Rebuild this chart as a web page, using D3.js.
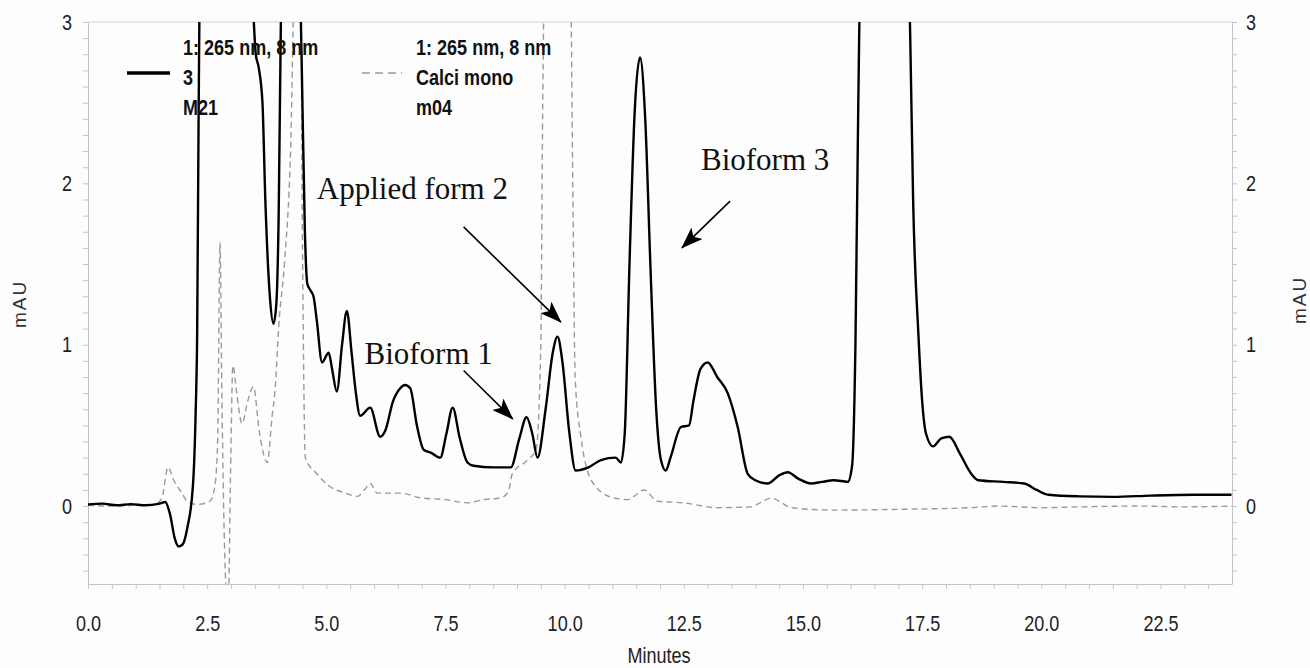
<!DOCTYPE html>
<html>
<head>
<meta charset="utf-8">
<script src="https://cdn.jsdelivr.net/npm/d3@7"></script>
<style>
  body { margin: 0; background: #fdfdfd; }
  svg { display: block; }
  .tick text { font-family: 'Liberation Sans', Arial, sans-serif; font-size: 22px; fill: #222; }
  .tick line { stroke: #c4c4c4; }
  .domain { stroke: #c4c4c4; }
</style>
</head>
<body>
<svg id="chart"></svg>
<script>
// trace 1: 265 nm, 8 nm — sample 3 / M21  [minutes, mAU]
const sampleM21 = [
  [0.0, 0.01], [0.3, 0.015], [0.6, 0.005], [0.9, 0.012], [1.2, 0.005], [1.5, 0.015],
  [1.62, 0.025], [1.72, -0.05], [1.82, -0.2], [1.9, -0.25], [1.98, -0.24], [2.08, -0.14],
  [2.2, 0.12], [2.26, 0.6], [2.29, 1.07], [2.32, 2.4], [2.36, 3.5], [3.4, 3.5],
  [3.47, 3.05], [3.52, 2.8], [3.58, 2.72], [3.66, 2.5], [3.72, 1.9], [3.82, 1.28],
  [3.89, 1.13], [3.95, 1.25], [4.0, 1.8], [4.05, 3.1], [4.08, 3.5], [4.42, 3.5],
  [4.48, 2.8], [4.55, 1.7], [4.6, 1.38], [4.66, 1.34], [4.73, 1.3], [4.8, 1.15],
  [4.91, 0.89], [5.05, 0.95], [5.12, 0.85], [5.22, 0.71], [5.33, 1.0], [5.43, 1.21],
  [5.53, 0.95], [5.62, 0.7], [5.71, 0.56], [5.92, 0.61], [6.13, 0.43], [6.24, 0.47],
  [6.4, 0.65], [6.55, 0.73], [6.65, 0.75], [6.76, 0.73], [6.9, 0.5], [7.04, 0.35],
  [7.2, 0.33], [7.39, 0.3], [7.52, 0.45], [7.65, 0.61], [7.8, 0.42], [7.96, 0.27],
  [8.09, 0.25], [8.5, 0.24], [8.87, 0.24], [9.05, 0.42], [9.2, 0.55], [9.32, 0.45],
  [9.43, 0.3], [9.6, 0.6], [9.75, 0.95], [9.85, 1.05], [9.95, 0.9], [10.1, 0.45],
  [10.23, 0.22], [10.5, 0.24], [10.76, 0.285], [11.07, 0.3], [11.18, 0.27], [11.26, 0.45],
  [11.36, 1.5], [11.47, 2.45], [11.58, 2.78], [11.69, 2.4], [11.8, 1.48], [11.92, 0.6],
  [12.02, 0.285], [12.12, 0.22], [12.22, 0.3], [12.44, 0.49], [12.61, 0.5], [12.7, 0.65],
  [12.85, 0.85], [13.0, 0.89], [13.2, 0.8], [13.42, 0.7], [13.63, 0.49], [13.84, 0.2],
  [14.0, 0.16], [14.26, 0.14], [14.5, 0.19], [14.68, 0.21], [14.9, 0.17], [15.17, 0.14],
  [15.4, 0.15], [15.65, 0.16], [15.94, 0.15], [16.03, 0.25], [16.1, 1.0], [16.16, 2.5],
  [16.22, 3.5], [17.2, 3.5], [17.25, 2.9], [17.31, 1.9], [17.42, 1.07], [17.5, 0.65],
  [17.58, 0.45], [17.73, 0.37], [17.9, 0.42], [18.07, 0.43], [18.3, 0.32], [18.53, 0.2],
  [18.68, 0.16], [19.2, 0.15], [19.64, 0.14], [19.9, 0.1], [20.15, 0.07], [20.8, 0.06],
  [21.5, 0.057], [22.3, 0.065], [23.2, 0.07], [23.99, 0.07]
];

// trace 1: 265 nm, 8 nm — Calci mono / m04  [minutes, mAU]
const calciM04 = [
  [0.0, 0.005], [0.5, 0.0], [1.0, 0.005], [1.4, 0.01], [1.55, 0.05], [1.68, 0.24],
  [1.8, 0.16], [1.97, 0.08], [2.08, 0.03], [2.29, 0.01], [2.56, 0.03], [2.66, 0.12],
  [2.72, 0.4], [2.77, 1.63], [2.81, 0.66], [2.86, -0.2], [2.9, -0.5], [2.95, -0.5],
  [2.99, 0.2], [3.04, 0.87], [3.12, 0.7], [3.23, 0.51], [3.35, 0.65], [3.47, 0.74],
  [3.6, 0.45], [3.76, 0.27], [3.86, 0.55], [3.93, 0.74], [4.0, 1.11], [4.12, 1.5],
  [4.25, 2.2], [4.34, 3.3], [4.46, 3.3], [4.5, 1.6], [4.56, 0.3], [4.8, 0.2],
  [5.08, 0.12], [5.4, 0.08], [5.65, 0.06], [5.8, 0.1], [5.92, 0.14], [6.07, 0.08],
  [6.55, 0.08], [7.0, 0.05], [7.5, 0.04], [7.96, 0.02], [8.3, 0.04], [8.65, 0.05],
  [8.82, 0.09], [8.9, 0.2], [9.2, 0.28], [9.4, 0.35], [9.5, 1.0], [9.54, 2.5],
  [9.58, 3.3], [10.12, 3.3], [10.17, 2.0], [10.22, 0.8], [10.34, 0.43], [10.6, 0.14],
  [11.03, 0.05], [11.32, 0.04], [11.5, 0.07], [11.66, 0.1], [11.95, 0.03], [12.5, 0.02],
  [13.2, -0.01], [13.9, -0.005], [14.1, 0.02], [14.33, 0.05], [14.55, 0.02], [14.75, -0.01],
  [15.65, -0.025], [17.06, -0.02], [18.5, -0.01], [19.1, 0.0], [20.0, -0.01], [20.8, -0.005],
  [22.0, 0.0], [23.0, -0.005], [24.0, 0.0]
];

const xLabels = [0, 2.5, 5, 7.5, 10, 12.5, 15, 17.5, 20, 22.5];
const yLabels = [0, 1, 2, 3];

const legendSample = ["1: 265 nm, 8 nm", "3", "M21"];
const legendCalci = ["1: 265 nm, 8 nm", "Calci mono", "m04"];

// annotation text, label anchor [min, mAU], arrow from/to [min, mAU]
const notes = [
  { text: "Applied form 2", at: [4.8, 1.9], from: [7.88, 1.73], to: [9.92, 1.14] },
  { text: "Bioform 1", at: [5.8, 0.88], from: [7.88, 0.84], to: [8.91, 0.54] },
  { text: "Bioform 3", at: [12.86, 2.08], from: [13.47, 1.89], to: [12.46, 1.6] }
];

const width = 1310, height = 668;
const plotL = 88, plotR = 1232, plotT = 22, plotB = 584;
const squeeze = 0.82; // the scan's sans text is a narrow face

const svg = d3.select("#chart").attr("width", width).attr("height", height);

const x = d3.scaleLinear().domain([0, 24]).range([plotL, plotR]);
const y = d3.scaleLinear().domain([-0.483, 3]).range([plotB, plotT]);

// squash text horizontally, keeping its anchor point where it was
function narrow(sel) {
  sel.each(function () {
    const t = d3.select(this);
    const x0 = +(t.attr("x") || 0);
    t.attr("x", x0 / squeeze).attr("transform", `scale(${squeeze},1)`);
  });
}

const defs = svg.append("defs");
defs.append("clipPath").attr("id", "plot")
  .append("rect").attr("x", plotL).attr("y", plotT).attr("width", plotR - plotL).attr("height", plotB - plotT);

const arrow = defs.append("marker")
  .attr("id", "head").attr("markerUnits", "userSpaceOnUse")
  .attr("viewBox", "0 0 22 16").attr("markerWidth", 22).attr("markerHeight", 16)
  .attr("refX", 21).attr("refY", 8).attr("orient", "auto");
arrow.append("path").attr("d", "M0,0 L22,8 L0,16 L5,8 Z").attr("fill", "#000");

// frame
svg.append("line").attr("x1", plotL).attr("x2", plotR).attr("y1", plotT).attr("y2", plotT)
  .attr("stroke", "#d4d4d4");

const minorY = d3.range(-4, 31).map(i => i / 10);
const minorX = d3.range(0, 48).map(i => i / 2);

svg.append("g").attr("transform", `translate(${plotL},0)`)
  .call(d3.axisLeft(y).tickValues(minorY).tickSize(5).tickSizeOuter(0).tickPadding(11)
    .tickFormat(d => yLabels.includes(d) ? d : ""))
  .call(g => narrow(g.selectAll("text")));

svg.append("g").attr("transform", `translate(${plotR},0)`)
  .call(d3.axisRight(y).tickValues(minorY).tickSize(5).tickSizeOuter(0).tickPadding(9)
    .tickFormat(d => yLabels.includes(d) ? d : ""))
  .call(g => narrow(g.selectAll("text")));

svg.append("g").attr("transform", `translate(0,${plotB})`)
  .call(d3.axisBottom(x).tickValues(minorX).tickSize(5).tickSizeOuter(0).tickPadding(26)
    .tickFormat(d => xLabels.includes(d) ? d.toFixed(1) : ""))
  .call(g => narrow(g.selectAll("text")));

// axis titles
const sans = "'Liberation Sans', Arial, sans-serif";
svg.append("text").attr("transform", "translate(26,304) rotate(-90)")
  .attr("text-anchor", "middle").attr("font-family", sans).attr("font-size", 19)
  .attr("letter-spacing", 2).attr("fill", "#333").text("mAU");
svg.append("text").attr("transform", "translate(1306,300) rotate(-90)")
  .attr("text-anchor", "middle").attr("font-family", sans).attr("font-size", 19)
  .attr("letter-spacing", 2).attr("fill", "#333").text("mAU");
svg.append("text").attr("x", 659).attr("y", 663).attr("text-anchor", "middle")
  .attr("font-family", sans).attr("font-size", 22).attr("fill", "#222").text("Minutes")
  .call(narrow);

// traces
const line = d3.line().x(d => x(d[0])).y(d => y(d[1])).curve(d3.curveMonotoneX);
const traces = svg.append("g").attr("clip-path", "url(#plot)");

traces.append("path").datum(calciM04).attr("d", line)
  .attr("fill", "none").attr("stroke", "#9a9a9a").attr("stroke-width", 1.4)
  .attr("stroke-dasharray", "6,4");

traces.append("path").datum(sampleM21).attr("d", line)
  .attr("fill", "none").attr("stroke", "#000").attr("stroke-width", 2.4)
  .attr("stroke-linejoin", "round");

// legends
function legend(lines, x0, sampleX, dashed) {
  const g = svg.append("g");
  g.append("line").attr("x1", sampleX[0]).attr("x2", sampleX[1]).attr("y1", 73).attr("y2", 73)
    .attr("stroke", dashed ? "#9a9a9a" : "#000").attr("stroke-width", dashed ? 1.4 : 3.5)
    .attr("stroke-dasharray", dashed ? "8,5" : null);
  g.selectAll("text").data(lines).join("text")
    .attr("x", x0).attr("y", (d, i) => 55 + i * 30)
    .attr("font-family", sans).attr("font-weight", "bold").attr("font-size", 22)
    .attr("fill", "#111").text(d => d)
    .call(narrow);
}
legend(legendSample, 183, [127, 170], false);
legend(legendCalci, 416, [362, 402], true);

// annotations
const ann = svg.append("g");
ann.selectAll("text").data(notes).join("text")
  .attr("x", d => x(d.at[0])).attr("y", d => y(d.at[1]))
  .attr("font-family", "'Liberation Serif', 'Times New Roman', serif")
  .attr("font-size", 31).attr("fill", "#111").text(d => d.text);
ann.selectAll("line").data(notes).join("line")
  .attr("x1", d => x(d.from[0])).attr("y1", d => y(d.from[1]))
  .attr("x2", d => x(d.to[0])).attr("y2", d => y(d.to[1]))
  .attr("stroke", "#000").attr("stroke-width", 1.6).attr("marker-end", "url(#head)");
</script>
</body>
</html>
